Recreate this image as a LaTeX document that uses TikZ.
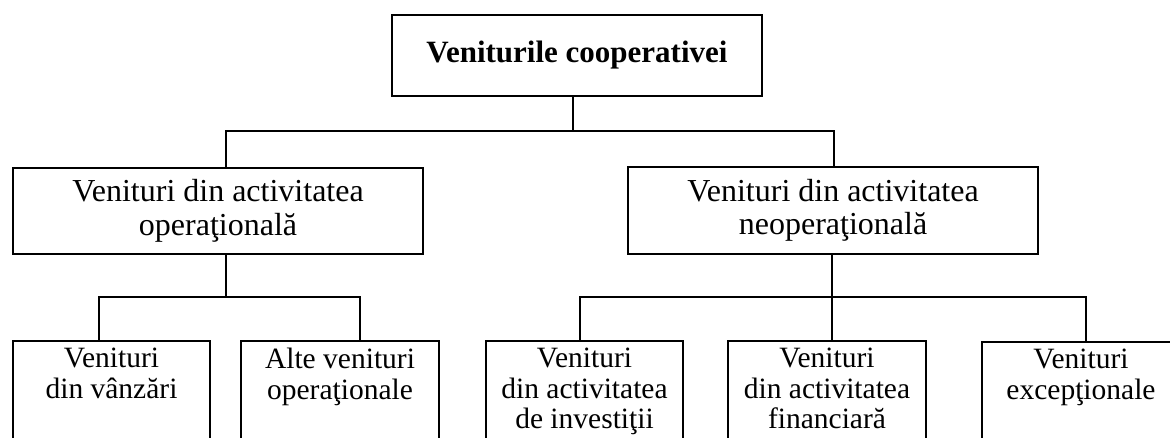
\documentclass[tikz,border=0pt]{standalone}
\usepackage{fontspec}
\setmainfont{Liberation Serif}
\begin{document}
\begin{tikzpicture}[x=1pt,y=-1pt,
  frame/.style={draw, line width=1.6pt, inner sep=0pt, rectangle},
  link/.style={line width=1.6pt},
  toptext/.style={font=\fontsize{31}{34}\selectfont\bfseries},
  midtext/.style={align=center, font=\fontsize{32}{33.5}\selectfont},
  lowtext/.style={align=center, inner sep=0pt, anchor=north,
                  font=\fontsize{29.5}{30.5}\selectfont}]
\useasboundingbox (0,0) rectangle (1170,438);
\fill[white] (0,0) rectangle (1170,438);
\clip (0,0) rectangle (1170,438);

% root
\node[frame, toptext, minimum width=370pt, minimum height=81pt] (root) at (577,55.5) {Veniturile cooperativei};

% second level
\node[frame, midtext, minimum width=410pt, minimum height=86pt] (op) at (218,211)
  {Venituri din activitatea\\operaţională};
\node[frame, midtext, minimum width=410pt, minimum height=87pt] (neop) at (833,210.5)
  {Venituri din activitatea\\neoperaţională};

% third level (boxes run past the lower edge)
\node[frame, minimum width=197pt, minimum height=120pt, anchor=north] (v1) at (111.5,340) {};
\node[frame, minimum width=198pt, minimum height=120pt, anchor=north] (v2) at (340,340) {};
\node[frame, minimum width=197pt, minimum height=120pt, anchor=north] (v3) at (584.5,340) {};
\node[frame, minimum width=198pt, minimum height=120pt, anchor=north] (v4) at (827,340) {};
\node[frame, minimum width=198pt, minimum height=120pt, anchor=north] (v5) at (1081,341) {};

\node[lowtext] (t1) at ([yshift=-8pt]v1.north) {Venituri\\din vânzări};
\node[lowtext] (t2) at ([yshift=-8pt]v2.north) {Alte venituri\\operaţionale};
\node[lowtext] (t3) at ([yshift=-8pt]v3.north) {Venituri\\din activitatea\\de investiţii};
\node[lowtext] (t4) at ([yshift=-8pt]v4.north) {Venituri\\din activitatea\\financiară};
\node[lowtext] (t5) at ([yshift=-8pt]v5.north) {Venituri\\excepţionale};

% junction points of the connectors
\coordinate (r0) at (573,131);
\coordinate (ra) at (226,131);
\coordinate (rb) at (834,131);
\coordinate (la) at (99,297);
\coordinate (lm) at (226,297);
\coordinate (lb) at (360,297);
\coordinate (na) at (580,297);
\coordinate (nm) at (832,297);
\coordinate (nb) at (1086,297);

% connectors
\draw[link] (r0 |- root.south) -- (r0);
\draw[link] (ra |- op.north) -- (ra) -- (rb) -- (rb |- neop.north);
\draw[link] (lm |- op.south) -- (lm);
\draw[link] (la |- v1.north) -- (la) -- (lb) -- (lb |- v2.north);
\draw[link] (nm |- neop.south) -- (nm |- v4.north);
\draw[link] (na |- v3.north) -- (na) -- (nb) -- (nb |- v5.north);
\end{tikzpicture}
\end{document}
